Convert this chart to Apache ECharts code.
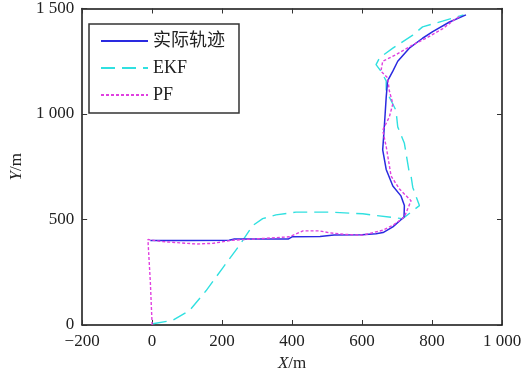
<!DOCTYPE html>
<html>
<head>
<meta charset="utf-8">
<script src="https://cdn.jsdelivr.net/npm/echarts@6/dist/echarts.min.js"></script>
<style>
  html, body { margin: 0; padding: 0; background: #fff; }
  #chart { width: 529px; height: 377px; }
</style>
</head>
<body>
<div id="chart"></div>
<script>
// ===== 数据 =====
const seriesNames = ['实际轨迹', 'EKF', 'PF'];

// 实际轨迹 [x, y] (m)
const actualTrack = [
  [-5, 400], [100, 400], [220, 402], [235, 408], [390, 408], [400, 418], [480, 420],
  [520, 426], [600, 428], [640, 432], [660, 438], [688, 465], [720, 512], [721, 566],
  [711, 612], [688, 659], [669, 737], [659, 830], [662, 900], [666, 1000], [669, 1079],
  [673, 1157], [688, 1203], [702, 1250], [735, 1312], [773, 1359], [802, 1390],
  [850, 1436], [897, 1470]
];

// EKF 估计
const ekfTrack = [
  [2, 6], [59, 22], [107, 69], [154, 162], [202, 271], [250, 379], [288, 472],
  [316, 504], [354, 522], [411, 535], [507, 535], [602, 527], [640, 519], [716, 504],
  [764, 566], [745, 652], [740, 706], [735, 722], [721, 861], [702, 939], [697, 1017],
  [669, 1110], [669, 1157], [654, 1203], [640, 1234], [650, 1266], [688, 1312],
  [745, 1374], [773, 1413], [830, 1440], [890, 1470]
];

// PF 估计
const pfTrack = [
  [0, 0], [-5, 200], [-12, 405], [31, 395], [126, 384], [173, 387], [231, 402],
  [316, 410], [392, 418], [431, 446], [478, 446], [507, 437], [554, 429], [602, 426],
  [659, 449], [688, 472], [721, 512], [740, 589], [707, 644], [683, 706], [669, 846],
  [659, 923], [678, 986], [688, 1048], [678, 1110], [673, 1172], [654, 1203],
  [659, 1250], [697, 1281], [745, 1328], [783, 1359], [831, 1405], [869, 1453], [880, 1462]
];

const xRange = [-200, 1000];
const yRange = [0, 1500];

const chart = echarts.init(document.getElementById('chart'));

const numFmt = v => {
  const s = Math.abs(v) >= 1000 ? String(Math.abs(v)).replace(/(\d)(\d{3})$/, '$1 $2') : String(Math.abs(v));
  return (v < 0 ? '\u2212' : '') + s;
};

const serif = '"Liberation Serif", "Noto Sans CJK SC", serif';

const boxAxis = {
  axisLine: { show: true, onZero: false, lineStyle: { color: '#111', width: 1.5 } },
  axisTick: { show: true, inside: true, length: 5, lineStyle: { color: '#333', width: 1 } },
  axisLabel: { show: false },
  splitLine: { show: false }
};

chart.setOption({
  animation: false,
  backgroundColor: '#fff',
  textStyle: { fontFamily: serif },
  grid: { left: 80, right: 27, top: 7, bottom: 49 },
  legend: {
    orient: 'vertical',
    left: 89,
    top: 24,
    padding: [8, 14, 9, 11],
    itemGap: 9,
    itemWidth: 47,
    itemHeight: 18,
    borderColor: '#333',
    borderWidth: 1.5,
    backgroundColor: '#fff',
    itemStyle: { opacity: 0 },
    textStyle: { fontFamily: serif, fontSize: 18, color: '#222' },
    data: seriesNames
  },
  xAxis: [
    {
      type: 'value', min: xRange[0], max: xRange[1], interval: 200,
      ...boxAxis,
      axisLabel: { show: true, fontSize: 17, color: '#222', margin: 8, formatter: numFmt, fontFamily: serif },
      name: '{i|X}/m',
      nameLocation: 'middle',
      nameGap: 30,
      nameTextStyle: {
        fontSize: 17, color: '#222', fontFamily: serif,
        rich: { i: { fontStyle: 'italic', fontSize: 17, color: '#222', fontFamily: serif } }
      }
    },
    {
      type: 'value', position: 'top', min: xRange[0], max: xRange[1], interval: 200,
      ...boxAxis
    }
  ],
  yAxis: [
    {
      type: 'value', min: yRange[0], max: yRange[1], interval: 500,
      ...boxAxis,
      axisLabel: { show: true, fontSize: 17, color: '#222', margin: 8, formatter: numFmt, fontFamily: serif },
      name: '{i|Y}/m',
      nameLocation: 'middle',
      nameGap: 45,
      nameTextStyle: {
        fontSize: 17, color: '#222', fontFamily: serif,
        rich: { i: { fontStyle: 'italic', fontSize: 17, color: '#222', fontFamily: serif } }
      }
    },
    {
      type: 'value', position: 'right', min: yRange[0], max: yRange[1], interval: 500,
      ...boxAxis
    }
  ],
  series: [
    {
      name: seriesNames[0], type: 'line', data: actualTrack, symbol: 'none', z: 3,
      itemStyle: { color: '#2a2ae0' },
      lineStyle: { color: '#2a2ae0', width: 1.5, type: 'solid' }
    },
    {
      name: seriesNames[1], type: 'line', data: ekfTrack, symbol: 'none', z: 2,
      itemStyle: { color: '#30e0e0' },
      lineStyle: { color: '#30e0e0', width: 1.4, type: [14, 7] }
    },
    {
      name: seriesNames[2], type: 'line', data: pfTrack, symbol: 'none', z: 4,
      itemStyle: { color: '#e040e0' },
      lineStyle: { color: '#e040e0', width: 1.4, type: [3, 2] }
    }
  ]
});
</script>
</body>
</html>
